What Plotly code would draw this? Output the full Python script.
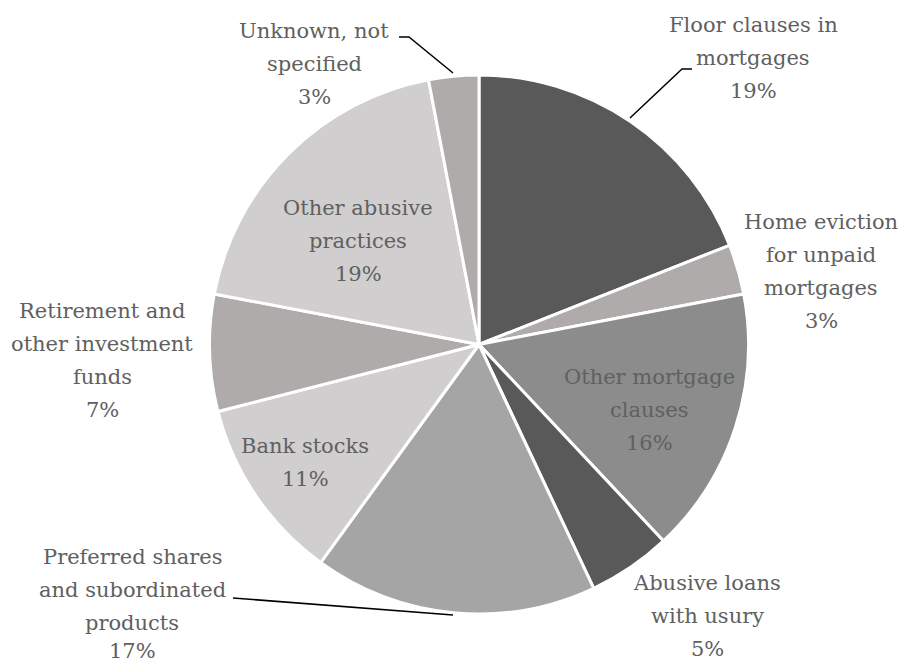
import plotly.graph_objects as go

W, H = 903, 666

categories = [
    "Floor clauses in mortgages",
    "Home eviction for unpaid mortgages",
    "Other mortgage clauses",
    "Abusive loans with usury",
    "Preferred shares and subordinated products",
    "Bank stocks",
    "Retirement and other investment funds",
    "Other abusive practices",
    "Unknown, not specified",
]
shares = [19, 3, 16, 5, 17, 11, 7, 19, 3]
label_lines = [
    ["Floor clauses in", "mortgages"],
    ["Home eviction", "for unpaid", "mortgages"],
    ["Other mortgage", "clauses"],
    ["Abusive loans", "with usury"],
    ["Preferred shares", "and subordinated", "products"],
    ["Bank stocks"],
    ["Retirement and", "other investment", "funds"],
    ["Other abusive", "practices"],
    ["Unknown, not", "specified"],
]
colors = ["#595959", "#AFABAB", "#8C8C8C", "#595959", "#A5A5A5",
          "#D0CECE", "#AFABAB", "#D0CECE", "#AFABAB"]

# label block placement (pixel center x, first-line center y)
label_pos = [(753, 25), (821, 222), (649, 377), (707, 583), (132, 557),
             (305, 446), (102, 311), (358, 208), (314, 31)]
line_step = 33
# the last label line of the bottom-left block sits at the page edge
bottom_limit = 651

FONT = "DejaVu Serif"
TXT = "#606060"

def px(x):
    return x / W

def py(y):
    return 1 - y / H

cx, cy, r = 479, 344.5, 269.5

fig = go.Figure(go.Pie(
    labels=categories,
    values=shares,
    sort=False,
    direction="clockwise",
    rotation=0,
    marker=dict(colors=colors, line=dict(color="white", width=3)),
    textinfo="none",
    hoverinfo="label+percent",
    domain=dict(x=[px(cx - r), px(cx + r)], y=[py(cy + r), py(cy - r)]),
    showlegend=False,
))

total = sum(shares)
annotations = []
for lines, val, (x0, y0) in zip(label_lines, shares, label_pos):
    all_lines = lines + [f"{round(100 * val / total)}%"]
    for i, t in enumerate(all_lines):
        yy = min(y0 + i * line_step, bottom_limit)
        annotations.append(dict(
            x=px(x0), y=py(yy), xref="paper", yref="paper",
            text=t, showarrow=False, xanchor="center", yanchor="middle",
            borderpad=0,
            font=dict(family=FONT, size=21, color=TXT),
        ))

# leader lines (pixel paths)
leaders = [
    [(399, 37), (409, 37), (453, 73)],
    [(692, 69), (682, 69), (630, 118)],
    [(233, 598), (453, 615)],
]
shapes = []
for pts in leaders:
    path = "M " + " L ".join(f"{px(x):.5f},{py(y):.5f}" for x, y in pts)
    shapes.append(dict(type="path", path=path, xref="paper", yref="paper",
                       line=dict(color="black", width=1.5)))

fig.update_layout(
    width=W, height=H,
    margin=dict(l=0, r=0, t=0, b=0),
    paper_bgcolor="white",
    plot_bgcolor="white",
    annotations=annotations,
    shapes=shapes,
)

fig.write_html(
    "out.html",
    config={"displayModeBar": False},
    post_script="document.body.style.margin='0px';document.body.style.padding='0px';",
)
